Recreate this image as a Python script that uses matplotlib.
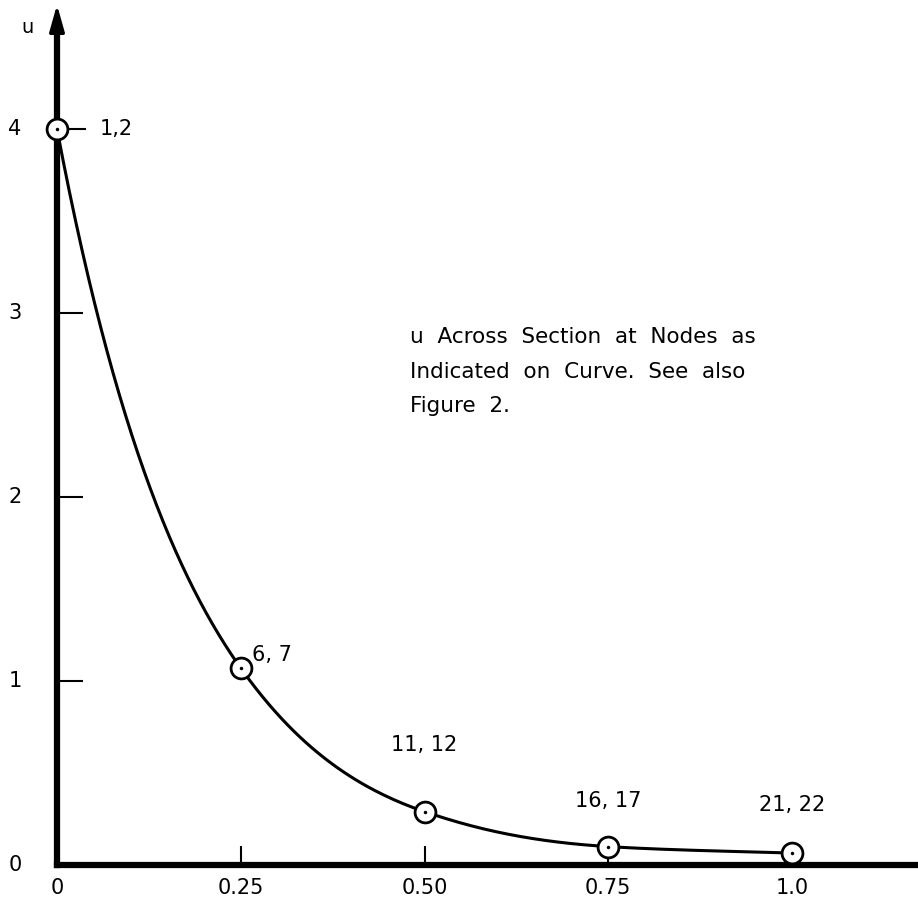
import numpy as np
import matplotlib.pyplot as plt

# Data
x_nodes = [0.0, 0.25, 0.50, 0.75, 1.0]
u_nodes = [4.0, 1.07, 0.29, 0.10, 0.065]
node_labels = ['1,2', '6, 7', '11, 12', '16, 17', '21, 22']
x_ticks = [0, 0.25, 0.50, 0.75, 1.0]
x_tick_labels = ['0', '0.25', '0.50', '0.75', '1.0']
y_ticks = [0, 1, 2, 3, 4]
note = 'u  Across  Section  at  Nodes  as\nIndicated  on  Curve.  See  also\nFigure  2.'


def smooth_curve(xs, ys, n=60):
    # monotone cubic hermite through the nodes, done in log space
    xs = np.asarray(xs, float)
    ly = np.log(np.asarray(ys, float))
    h = np.diff(xs)
    d = np.diff(ly) / h
    m = np.empty_like(ly)
    m[0], m[-1] = d[0], d[-1]
    for i in range(1, len(xs) - 1):
        if d[i - 1] * d[i] <= 0:
            m[i] = 0
        else:
            w1 = 2 * h[i] + h[i - 1]
            w2 = h[i] + 2 * h[i - 1]
            m[i] = (w1 + w2) / (w1 / d[i - 1] + w2 / d[i])
    out_x, out_y = [], []
    for i in range(len(xs) - 1):
        t = np.linspace(0, 1, n)
        h00 = 2 * t**3 - 3 * t**2 + 1
        h10 = t**3 - 2 * t**2 + t
        h01 = -2 * t**3 + 3 * t**2
        h11 = t**3 - t**2
        yy = h00 * ly[i] + h10 * h[i] * m[i] + h01 * ly[i + 1] + h11 * h[i] * m[i + 1]
        out_x.extend(xs[i] + t * h[i])
        out_y.extend(np.exp(yy))
    return np.array(out_x), np.array(out_y)


fig = plt.figure(figsize=(9.18, 9.01), dpi=100)
ax = fig.add_axes([57 / 918, 36 / 901, 861 / 918, 838 / 901])
ax.set_xlim(0, 861 / 735)
ax.set_ylim(0, 838 / 184)

for s in ['top', 'right']:
    ax.spines[s].set_visible(False)
for s in ['left', 'bottom']:
    ax.spines[s].set_linewidth(4.5)

# arrow head on u axis
ax.annotate('', xy=(0, 1.03), xytext=(0, 0.97), xycoords='axes fraction',
            arrowprops=dict(arrowstyle='-|>,head_length=1.6,head_width=0.45',
                            color='black', lw=2.5), annotation_clip=False)
ax.text(-0.04, 4.55, 'u', fontsize=14, ha='center', va='center')

cx, cy = smooth_curve(x_nodes, u_nodes)
ax.plot(cx, cy, color='black', linewidth=2.2, clip_on=False)
ax.plot(x_nodes, u_nodes, 'o', markersize=15, markerfacecolor='white',
        markeredgecolor='black', markeredgewidth=2, clip_on=False, zorder=5)
ax.plot(x_nodes, u_nodes, '.', markersize=3, color='black', clip_on=False, zorder=6)

# ticks
ax.set_xticks(x_ticks[1:])
ax.set_xticklabels([])
ax.tick_params(axis='x', direction='in', length=14, width=1.5)
ax.set_yticks(y_ticks[1:4])
ax.set_yticklabels([])
ax.tick_params(axis='y', direction='in', length=19, width=1.5)
for xv, lab in zip(x_ticks, x_tick_labels):
    ax.text(xv, -0.125, lab, fontsize=15, ha='center', va='center')
for yv in y_ticks:
    ax.text(-0.057, yv, str(yv), fontsize=15, ha='center', va='center')

# node labels
ax.plot([0.01, 0.038], [u_nodes[0], u_nodes[0]], color='black', linewidth=1.5)
ax.text(0.058, u_nodes[0], node_labels[0], fontsize=15, ha='left', va='center')
ax.text(0.265, u_nodes[1] + 0.07, node_labels[1], fontsize=15, ha='left', va='center')
label_lift = [0.36, 0.25, 0.26]
for xv, uv, lab, dy in zip(x_nodes[2:], u_nodes[2:], node_labels[2:], label_lift):
    ax.text(xv, uv + dy, lab, fontsize=15, ha='center', va='center')

ax.text(0.48, 2.68, note, fontsize=15.5, ha='left', va='center', linespacing=1.9)

fig.savefig('out.png', dpi=100)
